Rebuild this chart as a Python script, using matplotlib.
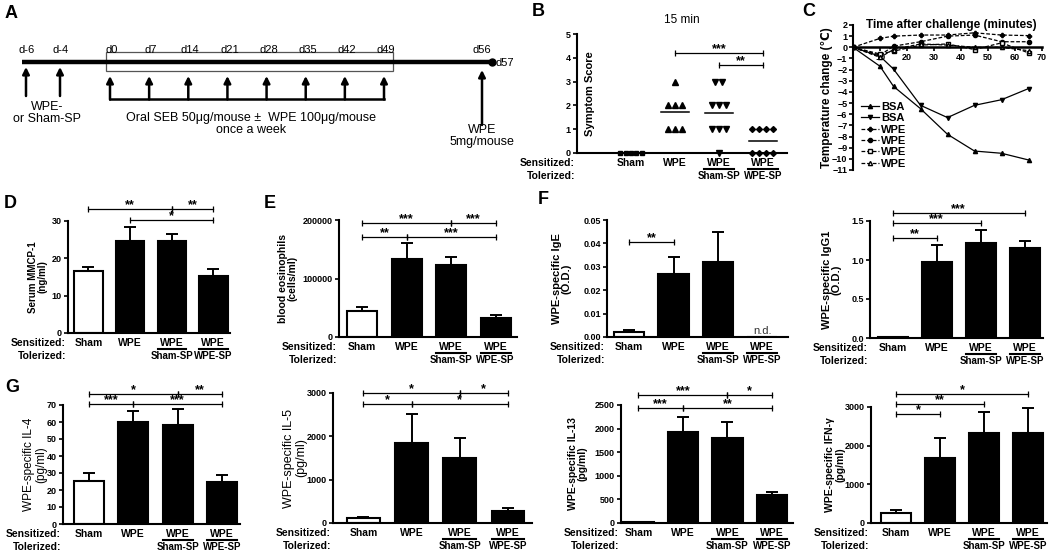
import numpy as np
import matplotlib
matplotlib.use('Agg')
import matplotlib.pyplot as plt
import matplotlib.transforms as mtransforms
from matplotlib.patches import Rectangle

plt.rcParams['font.family'] = ['Liberation Sans', 'DejaVu Sans']
plt.rcParams['font.weight'] = 'bold'
plt.rcParams['axes.labelweight'] = 'bold'
plt.rcParams['axes.linewidth'] = 1.5
plt.rcParams['ytick.major.width'] = 1.2
plt.rcParams['ytick.major.size'] = 3
plt.rcParams['xtick.major.width'] = 1.2
plt.rcParams['xtick.major.size'] = 3

W, H = 1050, 554

sens_labels = ['Sham', 'WPE', 'WPE', 'WPE']
tol_labels = ['', '', 'Sham-SP', 'WPE-SP']

# A - protocol timeline
tl_days = [-6, -4, 0, 7, 14, 21, 28, 35, 42, 49, 56]
tl_end = 57
sp_days = [-6, -4]
seb_days = [0, 7, 14, 21, 28, 35, 42, 49]
challenge_day = 56

# B - symptom scores at 15 min
score_sham = [0, 0, 0, 0, 0]
score_wpe = [3, 2, 2, 2, 1, 1, 1]
score_shamsp = [3, 3, 2, 2, 2, 1, 1, 1, 0]
score_wpesp = [1, 1, 1, 1, 0, 0, 0, 0]

# C - temperature change
time_min = [0, 10, 15, 25, 35, 45, 55, 65]
temp_bsa1 = [0, -1.7, -3.5, -5.5, -7.8, -9.3, -9.5, -10.1]
temp_bsa2 = [0, -0.8, -1.95, -5.2, -6.3, -5.2, -4.7, -3.7]
temp_wpe1 = [0, 0.8, 1.0, 1.1, 1.1, 1.3, 1.1, 1.05]
temp_wpe2 = [0, -0.7, 0.1, 0.5, 1.0, 1.1, 0.5, 0.5]
temp_wpe3 = [0, -0.6, -0.35, 0.2, 0.3, -0.2, 0.4, -0.5]
temp_wpe4 = [0, -0.9, -0.2, 0.3, 0.2, 0.0, 0.0, -0.3]

# D-G bar panels (mean, sem)
mmcp_mean = [16.7, 24.6, 24.6, 15.4]
mmcp_sem = [0.9, 3.7, 1.9, 1.8]
eos_mean = [44000, 134000, 123000, 32500]
eos_sem = [6500, 27000, 14000, 5200]
ige_mean = [0.002, 0.027, 0.032, 0.0]
ige_sem = [0.001, 0.007, 0.013, 0.0]
igg1_mean = [0.01, 0.97, 1.22, 1.15]
igg1_sem = [0.0, 0.22, 0.16, 0.10]
il4_mean = [25.5, 60.0, 58.3, 24.6]
il4_sem = [4.3, 6.4, 9.3, 4.1]
il5_mean = [125, 1835, 1500, 278]
il5_sem = [25, 675, 460, 62]
il13_mean = [20, 1920, 1800, 600]
il13_sem = [5, 330, 350, 58]
ifng_mean = [255, 1680, 2320, 2320]
ifng_sem = [70, 530, 560, 660]

# significance brackets (from, to, height, label)
sig_b = [(1, 3, 4.2, '***'), (2, 3, 3.7, '**')]
sig_mmcp = [(0, 2, 33.2, '**'), (2, 3, 33.2, '**'), (1, 3, 30.3, '*')]
sig_eos = [(0, 2, 195000, '***'), (2, 3, 195000, '***'), (0, 1, 171000, '**'), (1, 3, 171000, '***')]
sig_ige = [(0, 1, 0.0407, '**')]
sig_igg1 = [(0, 3, 1.607, '***'), (0, 2, 1.47, '***'), (0, 1, 1.286, '**')]
sig_il4 = [(0, 2, 76.5, '*'), (2, 3, 76.5, '**'), (0, 1, 70.6, '***'), (1, 3, 70.6, '***')]
sig_il5 = [(0, 2, 3000, '*'), (2, 3, 3000, '*'), (0, 1, 2753, '*'), (1, 3, 2753, '*')]
sig_il13 = [(0, 2, 2711, '***'), (2, 3, 2711, '*'), (0, 1, 2430, '***'), (1, 3, 2430, '**')]
sig_ifng = [(0, 3, 3326, '*'), (0, 2, 3086, '**'), (0, 1, 2811, '*')]

fig = plt.figure(figsize=(W / 100, H / 100), dpi=100)


def add_ax(l, t, r, b):
    return fig.add_axes([l / W, 1 - b / H, (r - l) / W, (b - t) / H])


def letter(s, x, y):
    fig.text(x / W, 1 - y / H, s, fontsize=13, weight='bold', ha='center', va='center')


def below(ax, dy):
    trans = mtransforms.blended_transform_factory(ax.transData, ax.transAxes)
    return trans + mtransforms.ScaledTranslation(0, -dy / 100, fig.dpi_scale_trans)


def group_labels(ax, fs=7.5):
    for i, s in enumerate(sens_labels):
        ax.text(i, 0, s, transform=below(ax, 10), ha='center', va='center', fontsize=fs)
    for i, s in enumerate(tol_labels):
        if s:
            ax.plot([i - 0.34, i + 0.34], [0, 0], transform=below(ax, 16), color='k',
                    lw=1.5, clip_on=False)
            ax.text(i, 0, s, transform=below(ax, 23), ha='center', va='center', fontsize=fs - 0.5)
    off = mtransforms.ScaledTranslation(-0.02, -0.10, fig.dpi_scale_trans)
    ax.text(0, 0, 'Sensitized:', transform=ax.transAxes + off, ha='right', va='center', fontsize=fs)
    off = mtransforms.ScaledTranslation(-0.02, -0.23, fig.dpi_scale_trans)
    ax.text(0, 0, 'Tolerized:', transform=ax.transAxes + off, ha='right', va='center', fontsize=fs)


def brackets(ax, sig, fs=9):
    for x0, x1, y, lab in sig:
        ax.plot([x0, x1], [y, y], color='k', lw=0.9, clip_on=False)
        ax.plot([x0, x1], [y, y], ls='none', marker='|', ms=5, mew=0.9, color='k', clip_on=False)
        ax.annotate(lab, xy=((x0 + x1) / 2, y), xytext=(0, -1.5), textcoords='offset points',
                    ha='center', va='bottom', fontsize=fs, annotation_clip=False)


def style(ax):
    ax.spines['top'].set_visible(False)
    ax.spines['right'].set_visible(False)
    ax.tick_params(axis='y', labelsize=6.5, pad=1.5)
    ax.set_xticks([])


def bar_panel(box, mean, sem, yticks, xlim, ylabel, lab_x, lab_fs, lab_w, sig, fmt=None):
    l, t, r, b = box
    ax = add_ax(l, t, r, b)
    x = np.arange(len(mean))
    ax.bar(x, mean, width=0.68, color=['white', 'black', 'black', 'black'],
           edgecolor='black', linewidth=1.5, zorder=2)
    ax.errorbar(x, mean, yerr=[np.zeros(len(sem)), sem], fmt='none', ecolor='black',
                elinewidth=1.4, capsize=4.5, capthick=1.4, zorder=1)
    ax.set_ylim(0, yticks[-1])
    ax.set_xlim(*xlim)
    ax.set_yticks(yticks)
    if fmt:
        ax.set_yticklabels([fmt.format(v) for v in yticks])
    style(ax)
    ax.set_ylabel(ylabel, fontsize=lab_fs, weight=lab_w, linespacing=1.0)
    ax.yaxis.set_label_coords((lab_x - l) / (r - l), 0.5)
    group_labels(ax)
    brackets(ax, sig)
    return ax


# ---------- A ----------
ax_a = add_ax(0, 0, 520, 190)
ax_a.set_xlim(0, 520)
ax_a.set_ylim(190, 0)
ax_a.axis('off')


def px(d):
    return np.interp(d, [-6, -4, 0, 49, 56, 57], [27, 61, 112, 386, 482, 492])


ax_a.plot([px(-6) - 5, px(tl_end)], [62, 62], color='k', lw=3.2, solid_capstyle='butt')
ax_a.plot(px(tl_end), 62, 'o', color='k', ms=5)
for d in tl_days:
    ax_a.text(px(d), 50, 'd%d' % d, ha='center', va='center', fontsize=8, weight='normal')
ax_a.text(px(tl_end) + 4, 63, 'd%d' % tl_end, ha='left', va='center', fontsize=8, weight='normal')
ax_a.add_patch(Rectangle((px(seb_days[0]) - 6, 52), px(seb_days[-1]) - px(seb_days[0]) + 13, 19,
                         fill=False, ec='#555555', lw=0.9))
arr = dict(arrowstyle='-|>', color='k', lw=1.8, mutation_scale=10, shrinkA=0, shrinkB=0)
for d in sp_days:
    ax_a.annotate('', xy=(px(d) - 1, 67), xytext=(px(d) - 1, 96), arrowprops=arr)
for d in seb_days:
    ax_a.annotate('', xy=(px(d) - 2, 76), xytext=(px(d) - 2, 99.5), arrowprops=arr)
ax_a.plot([px(seb_days[0]) - 2, px(seb_days[-1]) - 2], [99, 99], color='k', lw=1.8)
ax_a.annotate('', xy=(px(challenge_day), 70), xytext=(px(challenge_day), 125), arrowprops=arr)
ax_a.text(47, 113, 'WPE-\nor Sham-SP', ha='center', va='center', fontsize=9, weight='normal',
          linespacing=1.0)
ax_a.text(251, 124, 'Oral SEB 50\u03bcg/mouse \u00b1  WPE 100\u03bcg/mouse\nonce a week',
          ha='center', va='center', fontsize=9, weight='normal', linespacing=1.05)
ax_a.text(px(challenge_day), 136, 'WPE\n5mg/mouse', ha='center', va='center', fontsize=9,
          weight='normal', linespacing=1.05)
letter('A', 11, 13)

# ---------- B ----------
ax_b = add_ax(577, 34, 787, 153)
ax_b.set_ylim(0, 5)
ax_b.set_xlim(-1.23, 3.55)


def swarm(vals, center, step):
    vals = np.asarray(vals, dtype=float)
    xs = np.zeros(len(vals))
    for v in np.unique(vals):
        idx = np.where(vals == v)[0]
        xs[idx] = center + (np.arange(len(idx)) - (len(idx) - 1) / 2) * step
    return xs


for i, (vals, mk, ms) in enumerate([(score_sham, 's', 3.2), (score_wpe, '^', 4),
                                    (score_shamsp, 'v', 4), (score_wpesp, 'D', 3)]):
    step = 0.12 if i == 0 else 0.16
    ax_b.plot(swarm(vals, i, step), vals, ls='none', marker=mk, ms=ms, color='k', clip_on=False)
    ax_b.plot([i - 0.32, i + 0.32], [np.mean(vals)] * 2, color='k', lw=1.1, clip_on=False)
ax_b.set_yticks(range(6))
style(ax_b)
ax_b.set_ylabel('Symptom Score', fontsize=8)
ax_b.yaxis.set_label_coords((595 - 577) / 210, 0.5)
ax_b.set_title('15 min', fontsize=8.5, pad=8)
group_labels(ax_b, fs=7.5)
brackets(ax_b, sig_b)
letter('B', 538, 12)

# ---------- C ----------
ax_c = add_ax(853, 25, 1042, 170)
series = [(temp_bsa1, '^', '-', 'k', 'BSA'), (temp_bsa2, 'v', '-', 'k', 'BSA'),
          (temp_wpe1, 'P', '--', 'k', 'WPE'), (temp_wpe2, 'o', '--', 'k', 'WPE'),
          (temp_wpe3, 's', '--', 'w', 'WPE'), (temp_wpe4, '^', '--', 'w', 'WPE')]
for ys, mk, ls, fc, lab in series:
    ax_c.plot(time_min, ys, ls=ls, marker=mk, ms=3, mfc=fc, mec='k', color='k', lw=0.9,
              dashes=(3, 1.5) if ls == '--' else (None, None), label=lab)
ax_c.set_xlim(0, 70)
ax_c.set_ylim(-11, 2)
ax_c.set_yticks(range(-11, 3))
ax_c.set_xticks(range(10, 71, 10))
ax_c.spines['top'].set_visible(False)
ax_c.spines['right'].set_visible(False)
ax_c.spines['bottom'].set_position(('data', 0))
ax_c.spines['bottom'].set_linewidth(1.8)
ax_c.tick_params(axis='both', labelsize=6.5, pad=1)
ax_c.set_ylabel('Temperature change (\u2103)', fontsize=8.5)
ax_c.yaxis.set_label_coords((833 - 853) / 189, 0.5)
ax_c.text(0.52, 1.0, 'Time after challenge (minutes)', transform=ax_c.transAxes,
          ha='center', va='center', fontsize=8.5)
ax_c.legend(loc='upper left', bbox_to_anchor=(0.02, 0.5), frameon=False, fontsize=8,
            handlelength=1.6, handletextpad=0.2, labelspacing=0.12, borderaxespad=0)
letter('C', 809, 12)

# ---------- D-F ----------
bar_panel((68, 221, 230, 333), mmcp_mean, mmcp_sem, [0, 10, 20, 30], (-0.49, 3.4),
          'Serum MMCP-1\n(ng/ml)', 48, 7, 'bold', sig_mmcp)
letter('D', 10, 203)
bar_panel((339, 220, 517, 337), eos_mean, eos_sem, [0, 100000, 200000], (-0.52, 3.48),
          'blood eosinophils\n(cells/ml)', 298, 7.5, 'bold', sig_eos)
letter('E', 270, 203)
ax_f = bar_panel((607, 220, 788, 337), ige_mean, ige_sem, [0, 0.01, 0.02, 0.03, 0.04, 0.05],
                 (-0.5, 3.58), 'WPE-specific IgE\n(O.D.)', 572, 8, 'bold', sig_ige,
                 fmt='{:.2f}')
ax_f.text(3, 0.0003, 'n.d.', ha='center', va='bottom', fontsize=8, weight='normal', color='#333333')
letter('F', 543, 200)
bar_panel((870, 221, 1043, 338), igg1_mean, igg1_sem, [0, 0.5, 1.0, 1.5], (-0.51, 3.41),
          'WPE-specific IgG1\n(O.D.)', 842, 8, 'bold', sig_igg1, fmt='{:.1f}')

# ---------- G ----------
bar_panel((63, 405, 240, 524), il4_mean, il4_sem, list(range(0, 71, 10)), (-0.59, 3.41),
          'WPE-specific IL-4\n(pg/ml)', 47, 8.5, 'normal', sig_il4)
letter('G', 12, 387)
bar_panel((333, 393, 532, 523), il5_mean, il5_sem, [0, 1000, 2000, 3000], (-0.63, 3.5),
          'WPE-specific IL-5\n(pg/ml)', 307, 9, 'normal', sig_il5)
bar_panel((621, 405, 793, 523), il13_mean, il13_sem, [0, 500, 1000, 1500, 2000, 2500],
          (-0.39, 3.47), 'WPE-specific IL-13\n(pg/ml)', 588, 7.5, 'bold', sig_il13)
bar_panel((871, 407, 1047, 523), ifng_mean, ifng_sem, [0, 1000, 2000, 3000], (-0.57, 3.43),
          'WPE-specific IFN-\u03b3\n(pg/ml)', 845, 7.5, 'bold', sig_ifng)

fig.savefig('out.png', dpi=100, facecolor='white')
